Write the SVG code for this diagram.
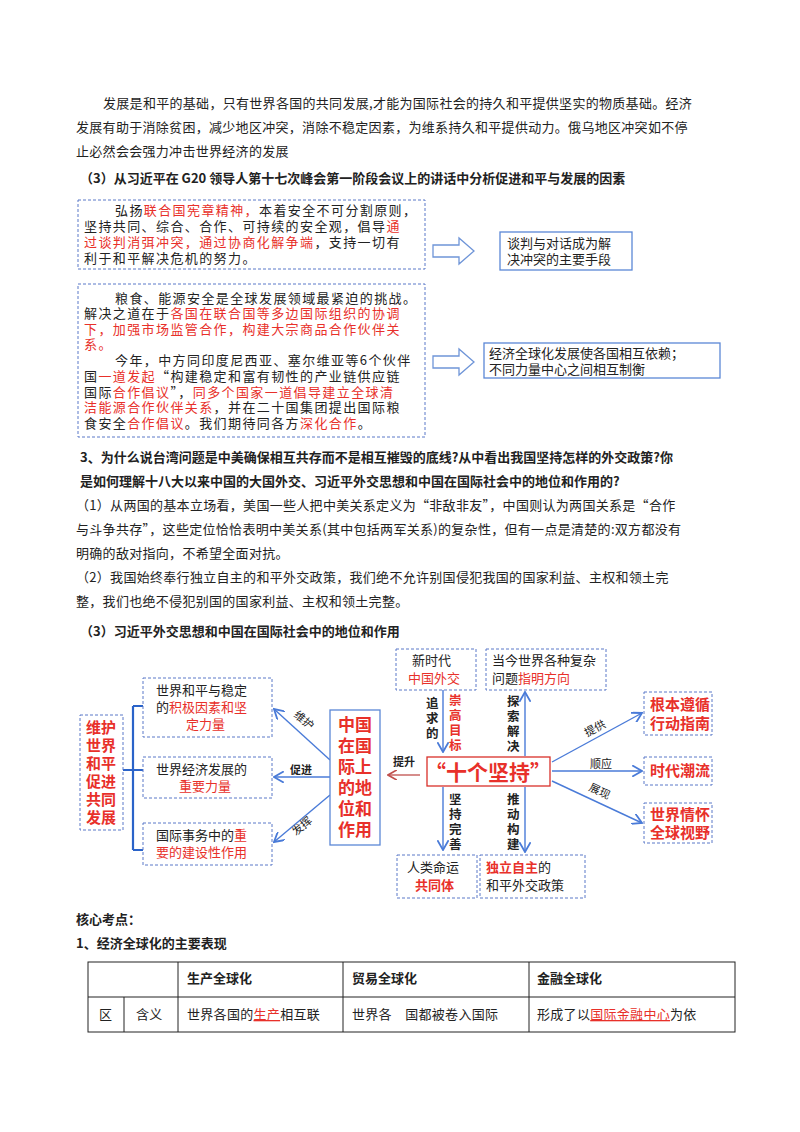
<svg xmlns="http://www.w3.org/2000/svg" width="800" height="1132" viewBox="0 0 800 1132">
<defs>
<style>
text{font-family:"Noto Sans CJK SC","Liberation Sans",sans-serif;fill:#222;}
.b{font-size:13px;letter-spacing:0.3px;}
.h{font-size:13px;font-weight:bold;}
.r{fill:#e8302a;}
.bt{font-size:13px;letter-spacing:1.4px;}
.dash{fill:#fff;stroke:#5b79c8;stroke-width:1;stroke-dasharray:3,2;}
.sb{fill:#fff;stroke:#5b87d6;stroke-width:1.3;}
.ln{stroke:#4a7bd8;stroke-width:1.4;fill:none;}
.lbl{font-size:11px;}
.big{font-size:15px;font-weight:bold;fill:#e8302a;}
.cb{font-size:17px;font-weight:bold;fill:#e8302a;}
.n{font-size:13px;}
.vb{font-size:12.5px;font-weight:bold;}
.tb{stroke:#222;stroke-width:1;fill:none;}
</style>
<marker id="ab" markerWidth="8" markerHeight="8" refX="7" refY="4" orient="auto"><path d="M0,0 L7,4 L0,8" fill="none" stroke="#4a7bd8" stroke-width="1.3"/></marker>
<marker id="ar" markerWidth="8" markerHeight="8" refX="7" refY="4" orient="auto"><path d="M0,0 L7,4 L0,8" fill="none" stroke="#c0504d" stroke-width="1.3"/></marker>
</defs>
<rect width="800" height="1132" fill="#fff"/>

<text class="b" x="103" y="108">发展是和平的基础，只有世界各国的共同发展,才能为国际社会的持久和平提供坚实的物质基础。经济</text>
<text class="b" x="76" y="132">发展有助于消除贫困，减少地区冲突，消除不稳定因素，为维系持久和平提供动力。俄乌地区冲突如不停</text>
<text class="b" x="76" y="156">止必然会会强力冲击世界经济的发展</text>
<text class="h" x="80" y="183">（3）从习近平在 G20 领导人第十七次峰会第一阶段会议上的讲话中分析促进和平与发展的因素</text>

<g id="box1">
<rect class="dash" x="78" y="200" width="347" height="69"/>
<text class="bt" x="115" y="215">弘扬<tspan class="r">联合国宪章精神，</tspan>本着安全不可分割原则，</text>
<text class="bt" x="84" y="231">坚持共同、综合、合作、可持续的安全观，倡导<tspan class="r">通</tspan></text>
<text class="bt" x="84" y="247"><tspan class="r">过谈判消弭冲突，通过协商化解争端</tspan>，支持一切有</text>
<text class="bt" x="84" y="263">利于和平解决危机的努力。</text>
</g>
<g id="box2">
<rect class="dash" x="78" y="284" width="347" height="153"/>
<text class="bt" x="115" y="303">粮食、能源安全是全球发展领域最紧迫的挑战。</text>
<text class="bt" x="84" y="318">解决之道在于<tspan class="r">各国在联合国等多边国际组织的协调</tspan></text>
<text class="bt" x="84" y="334"><tspan class="r">下，加强市场监管合作，构建大宗商品合作伙伴关</tspan></text>
<text class="bt" x="84" y="349"><tspan class="r">系。</tspan></text>
<text class="bt" x="115" y="365">今年，中方同印度尼西亚、塞尔维亚等6个伙伴</text>
<text class="bt" x="84" y="381">国<tspan class="r">一道发起</tspan>“构建稳定和富有韧性的产业链供应链</text>
<text class="bt" x="84" y="397">国际<tspan class="r">合作倡议</tspan>”，<tspan class="r">同多个国家一道倡导建立全球清</tspan></text>
<text class="bt" x="84" y="412"><tspan class="r">洁能源合作伙伴关系</tspan>，并在二十国集团提出国际粮</text>
<text class="bt" x="84" y="428">食安全<tspan class="r">合作倡议</tspan>。我们期待同各方<tspan class="r">深化合作</tspan>。</text>
</g>
<g id="connectors-top">
<path d="M433,245 H459 V238 L474,251 L459,264 V257 H433 Z" fill="#fff" stroke="#6f95d8" stroke-width="1.3"/>
<path d="M433,356 H459 V349 L474,362 L459,375 V368 H433 Z" fill="#fff" stroke="#6f95d8" stroke-width="1.3"/>
</g>
<g id="r1">
<rect class="sb" x="500" y="232" width="132" height="38"/>
<text class="n" x="507" y="248">谈判与对话成为解</text>
<text class="n" x="507" y="264">决冲突的主要手段</text>
</g>
<g id="r2">
<rect class="sb" x="484" y="343" width="236" height="35"/>
<text class="n" x="489" y="358">经济全球化发展使各国相互依赖；</text>
<text class="n" x="489" y="374">不同力量中心之间相互制衡</text>
</g>

<text class="h" x="80" y="462">3、为什么说台湾问题是中美确保相互共存而不是相互摧毁的底线?从中看出我国坚持怎样的外交政策?你</text>
<text class="h" x="80" y="486">是如何理解十八大以来中国的大国外交、习近平外交思想和中国在国际社会中的地位和作用的?</text>
<text class="b" x="76" y="510">（1）从两国的基本立场看，美国一些人把中美关系定义为“非敌非友”，中国则认为两国关系是“合作</text>
<text class="b" x="76" y="534">与斗争共存”，这些定位恰恰表明中美关系(其中包括两军关系)的复杂性，但有一点是清楚的:双方都没有</text>
<text class="b" x="76" y="558">明确的敌对指向，不希望全面对抗。</text>
<text class="b" x="76" y="582">（2）我国始终奉行独立自主的和平外交政策，我们绝不允许别国侵犯我国的国家利益、主权和领土完</text>
<text class="b" x="76" y="606">整，我们也绝不侵犯别国的国家利益、主权和领土完整。</text>
<text class="h" x="80" y="636">（3）习近平外交思想和中国在国际社会中的地位和作用</text>

<g id="connectors">
<path d="M133,706 V850 M133,706 H143 M133,850 H143 M123,770 H143" stroke="#2a63c9" stroke-width="2.2" fill="none"/>
<line class="ln" x1="330" y1="760" x2="274" y2="709" marker-end="url(#ab)"/>
<line class="ln" x1="330" y1="777" x2="274" y2="777" marker-end="url(#ab)"/>
<line class="ln" x1="330" y1="795" x2="274" y2="842" marker-end="url(#ab)"/>
<line x1="420" y1="775" x2="388" y2="775" stroke="#c0504d" stroke-width="1.3" marker-end="url(#ar)"/>
<line class="ln" x1="443" y1="690" x2="443" y2="752" marker-end="url(#ab)"/>
<line class="ln" x1="525" y1="756" x2="525" y2="692" marker-end="url(#ab)"/>
<line class="ln" x1="443" y1="787" x2="443" y2="850" marker-end="url(#ab)"/>
<line class="ln" x1="525" y1="787" x2="525" y2="852" marker-end="url(#ab)"/>
<line class="ln" x1="552" y1="762" x2="642" y2="713" marker-end="url(#ab)"/>
<line class="ln" x1="552" y1="771" x2="642" y2="771" marker-end="url(#ab)"/>
<line class="ln" x1="552" y1="781" x2="642" y2="823" marker-end="url(#ab)"/>
<text class="lbl" transform="translate(293,716) rotate(40)">维护</text>
<text class="lbl" x="290" y="774" font-weight="bold">促进</text>
<text class="lbl" transform="translate(296,836) rotate(-40)">发挥</text>
<text class="lbl" x="393" y="766" font-weight="bold">提升</text>
<text class="lbl" transform="translate(587,737) rotate(-28)">提供</text>
<text class="lbl" x="590" y="768">顺应</text>
<text class="lbl" transform="translate(588,790) rotate(25)">展现</text>
<text class="vb" x="426" y="708">追</text><text class="vb" x="426" y="723">求</text><text class="vb" x="426" y="738">的</text>
<text class="vb r" x="449" y="705">崇</text><text class="vb r" x="449" y="720">高</text><text class="vb r" x="449" y="735">目</text><text class="vb r" x="449" y="750">标</text>
<text class="vb" x="507" y="706">探</text><text class="vb" x="507" y="721">索</text><text class="vb" x="507" y="736">解</text><text class="vb" x="507" y="751">决</text>
<text class="vb" x="449" y="804">坚</text><text class="vb" x="449" y="819">持</text><text class="vb" x="449" y="834">完</text><text class="vb" x="449" y="849">善</text>
<text class="vb" x="507" y="804">推</text><text class="vb" x="507" y="819">动</text><text class="vb" x="507" y="834">构</text><text class="vb" x="507" y="849">建</text>
</g>

<g id="n-left">
<rect class="dash" x="80" y="715" width="43" height="115"/>
<text class="big" x="86" y="733">维护</text><text class="big" x="86" y="751">世界</text><text class="big" x="86" y="769">和平</text><text class="big" x="86" y="787">促进</text><text class="big" x="86" y="805">共同</text><text class="big" x="86" y="823">发展</text>
</g>
<g id="n-a"><rect class="dash" x="143" y="678" width="129" height="59"/>
<text class="n" x="156" y="695">世界和平与稳定</text>
<text class="n" x="156" y="712">的<tspan class="r">积极因素和坚</tspan></text>
<text class="n r" x="186" y="729">定力量</text></g>
<g id="n-b"><rect class="dash" x="143" y="757" width="129" height="41"/>
<text class="n" x="156" y="774">世界经济发展的</text>
<text class="n r" x="179" y="791">重要力量</text></g>
<g id="n-c"><rect class="dash" x="143" y="823" width="129" height="42"/>
<text class="n" x="156" y="840">国际事务中的<tspan class="r">重</tspan></text>
<text class="n r" x="156" y="857">要的建设性作用</text></g>
<g id="n-center"><rect class="sb" x="330" y="710" width="50" height="135"/>
<text class="cb" x="338" y="731">中国</text><text class="cb" x="338" y="752">在国</text><text class="cb" x="338" y="773">际上</text><text class="cb" x="338" y="794">的地</text><text class="cb" x="338" y="815">位和</text><text class="cb" x="338" y="836">作用</text></g>
<g id="n-ten"><rect x="427" y="757" width="123" height="29" fill="#fff" stroke="#d9302a" stroke-width="1.3"/>
<text x="488" y="780" text-anchor="middle" style="font-size:21px;font-weight:bold;fill:#e8302a">“十个坚持”</text></g>
<g id="n-t1"><rect class="dash" x="396" y="649" width="80" height="41"/>
<text class="n" x="412" y="665">新时代</text><text class="n r" x="408" y="683">中国外交</text></g>
<g id="n-t2"><rect class="dash" x="486" y="649" width="120" height="41"/>
<text class="n" x="492" y="665">当今世界各种复杂</text><text class="n" x="492" y="683">问题<tspan class="r">指明方向</tspan></text></g>
<g id="n-b1"><rect class="dash" x="397" y="855" width="80" height="43"/>
<text class="n" x="407" y="872">人类命运</text><text class="n r" x="415" y="890" font-weight="bold">共同体</text></g>
<g id="n-b2"><rect class="dash" x="480" y="855" width="105" height="43"/>
<text class="n" x="486" y="872"><tspan class="r" font-weight="bold">独立自主</tspan>的</text><text class="n" x="486" y="890">和平外交政策</text></g>
<g id="n-r1"><rect class="dash" x="644" y="692" width="68" height="43"/>
<text class="big" x="650" y="710">根本遵循</text><text class="big" x="650" y="729">行动指南</text></g>
<g id="n-r2"><rect class="dash" x="644" y="757" width="68" height="28"/>
<text class="big" x="650" y="776">时代潮流</text></g>
<g id="n-r3"><rect class="dash" x="644" y="803" width="68" height="40"/>
<text class="big" x="650" y="820">世界情怀</text><text class="big" x="650" y="838">全球视野</text></g>

<text class="h" x="76" y="924">核心考点：</text>
<text class="h" x="76" y="948">1、经济全球化的主要表现</text>
<g id="table">
<rect class="tb" x="88" y="962" width="647" height="70"/>
<line class="tb" x1="88" y1="997" x2="735" y2="997"/>
<line class="tb" x1="178" y1="962" x2="178" y2="1032"/>
<line class="tb" x1="343" y1="962" x2="343" y2="1032"/>
<line class="tb" x1="529" y1="962" x2="529" y2="1032"/>
<line class="tb" x1="124" y1="997" x2="124" y2="1032"/>
<text class="h" x="187" y="983">生产全球化</text>
<text class="h" x="352" y="983">贸易全球化</text>
<text class="h" x="537" y="983">金融全球化</text>
<text class="b" x="99" y="1019">区</text>
<text class="b" x="136" y="1019">含义</text>
<text class="b" x="187" y="1019">世界各国的<tspan class="r" text-decoration="underline">生产</tspan>相互联</text>
<text class="b" x="352" y="1019">世界各　国都被卷入国际</text>
<text class="b" x="537" y="1019">形成了以<tspan class="r" text-decoration="underline">国际金融中心</tspan>为依</text>
</g>
</svg>
